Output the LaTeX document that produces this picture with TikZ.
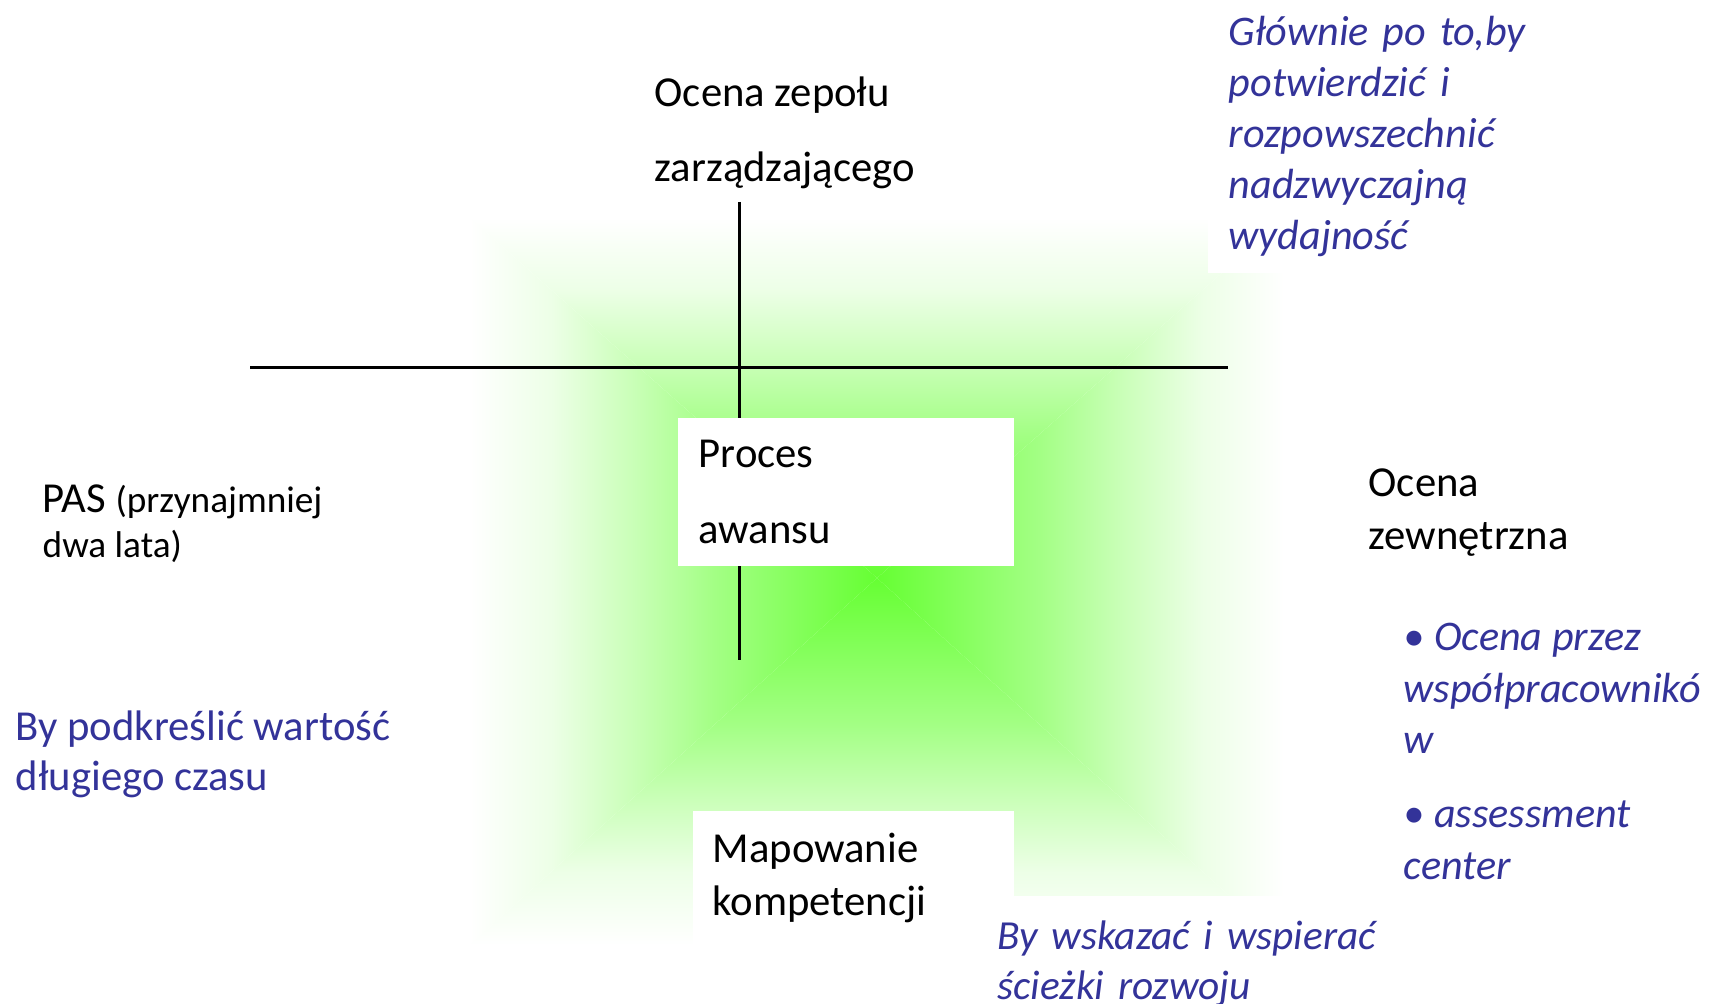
\documentclass[tikz,border=0pt]{standalone}
\usepackage{fontspec}
\setmainfont{Carlito}

\definecolor{glowgreen}{HTML}{66FF33}
\definecolor{noteblue}{HTML}{333399}

% one fade per side of the glow, green at the centre side
\pgfdeclareverticalshading{glowup}{100bp}{color(0bp)=(glowgreen); color(25bp)=(glowgreen); color(45bp)=(glowgreen!60); color(55bp)=(glowgreen!35); color(65bp)=(glowgreen!12); color(75bp)=(white); color(100bp)=(white)}
\pgfdeclareverticalshading{glowdown}{100bp}{color(0bp)=(white); color(25bp)=(white); color(35bp)=(glowgreen!12); color(45bp)=(glowgreen!35); color(55bp)=(glowgreen!60); color(75bp)=(glowgreen); color(100bp)=(glowgreen)}
\pgfdeclarehorizontalshading{glowright}{100bp}{color(0bp)=(glowgreen); color(25bp)=(glowgreen); color(45bp)=(glowgreen!60); color(55bp)=(glowgreen!35); color(65bp)=(glowgreen!12); color(75bp)=(white); color(100bp)=(white)}
\pgfdeclarehorizontalshading{glowleft}{100bp}{color(0bp)=(white); color(25bp)=(white); color(35bp)=(glowgreen!12); color(45bp)=(glowgreen!35); color(55bp)=(glowgreen!60); color(75bp)=(glowgreen); color(100bp)=(glowgreen)}

\newcommand{\linesp}[1]{\fontsize{12.15}{#1}\selectfont}
\newcommand{\notesp}[1]{\fontsize{12}{#1}\selectfont}
\newcommand{\smallpart}[1]{{\fontsize{10.6}{13}\selectfont #1}}

\begin{document}
\begin{tikzpicture}[
    x=0.1mm, y=-0.1mm,
    every node/.style={inner sep=0pt, align=left, anchor=base west},
    term/.style={font=\linesp{15}},
    note/.style={text=noteblue, font=\itshape\notesp{14.5}},
    box/.style={fill=white, anchor=north west, inner xsep=2.1mm, inner ysep=0pt},
    axisline/.style={line width=0.3mm}
  ]
  \useasboundingbox (0,0) rectangle (1710,1004);

  % glow behind the cross
  \coordinate (gc) at (877,578);
  \coordinate (gtl) at (470,218);
  \coordinate (gtr) at (1284,218);
  \coordinate (gbl) at (470,945);
  \coordinate (gbr) at (1284,945);
  \begin{scope}
    \clip (gc) -- (gtl) -- (gtr) -- cycle;
    \shade[shading=glowup] (gtl) rectangle (gc -| gtr);
  \end{scope}
  \begin{scope}
    \clip (gc) -- (gbl) -- (gbr) -- cycle;
    \shade[shading=glowdown] (gc -| gbl) rectangle (gbr);
  \end{scope}
  \begin{scope}
    \clip (gc) -- (gtl) -- (gbl) -- cycle;
    \shade[shading=glowleft] (gtl) rectangle (gc |- gbl);
  \end{scope}
  \begin{scope}
    \clip (gc) -- (gtr) -- (gbr) -- cycle;
    \shade[shading=glowright] (gc |- gtr) rectangle (gbr);
  \end{scope}

  % the cross
  \coordinate (hl) at (250,368);
  \coordinate (hr) at (1228,368);
  \coordinate (vt) at (739,202);
  \coordinate (vb) at (739,660);
  \draw[axisline] (hl) -- (hr);
  \draw[axisline] (vt) -- (vb);

  % boxes
  \node[box, font=\linesp{21.6}, text width=29.4mm, minimum height=14.8mm] (proces) at (677,417) {Proces\\awansu};
  \node[box, term, inner xsep=2mm, text width=28.1mm, minimum height=13.4mm] (mapowanie) at (692,810) {Mapowanie\\kompetencji};
  \node[box, note, text width=46.1mm, minimum height=27.2mm] (glownie) at (1207,0) {Głównie po to,by\\potwierdzić i\\rozpowszechnić\\nadzwyczajną\\wydajność};
  \node[box, note, font=\itshape\fontsize{11.75}{14.3}\selectfont, inner xsep=1.2mm, text width=39.1mm, minimum height=13.6mm] (sciezki) at (985,895) {By wskazać i wspierać\\ścieżki rozwoju};

  % labels round the cross (placed at the last baseline)
  \node[font=\linesp{21.6}] (zespol) at (654,182) {Ocena zepołu\\zarządzającego};
  \node[font=\linesp{13}] (pas) at (42,558) {PAS \smallpart{(przynajmniej}\\\smallpart{dwa lata)}};
  \node[term] (zewn) at (1368,549) {Ocena\\zewnętrzna};
  \node[note, font=\itshape\notesp{14.7}] (metody) at (1403,879) {• Ocena przez\\współpracownikó\\w\\[2.2mm]• assessment\\center};
  \node[text=noteblue, font=\linesp{14.2}] (dlugi) at (15,790) {By podkreślić wartość\\długiego czasu};
\end{tikzpicture}
\end{document}
